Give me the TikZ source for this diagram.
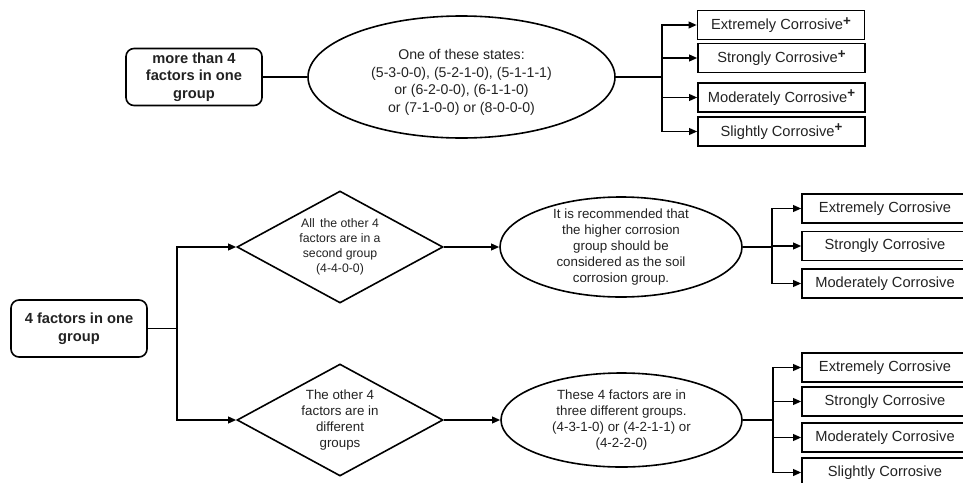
\documentclass[tikz,border=0pt]{standalone}
\usepackage{fontspec}
\setmainfont{Liberation Sans}
\usetikzlibrary{shapes.geometric,arrows.meta}
\definecolor{txt}{HTML}{222222}
\newcommand{\plussup}{\raisebox{0.55ex}{\fontsize{10}{10}\selectfont\bfseries +}}
\tikzset{
  ln/.style={line width=1.2pt},
  arr/.style={ln,-{Triangle[length=6pt,width=5pt]}},
  rbox/.style={draw,ln,rounded corners=6pt,minimum width=102pt,minimum height=42.75pt,align=center,
    font=\fontsize{11}{13.2}\selectfont\bfseries,text=txt,inner sep=0pt},
  cbox/.style={draw,ln,minimum width=125.25pt,minimum height=21.5pt,inner sep=0pt,
    font=\fontsize{11}{13}\selectfont,text=txt},
  ell/.style={draw,ln,ellipse,inner sep=0pt},
  dia/.style={draw,ln,diamond,inner sep=0pt},
  lab/.style={align=center,text=txt,inner sep=0pt},
}
\begin{document}
\begin{tikzpicture}[x=0.75pt,y=-0.75pt]
\useasboundingbox (0,0) rectangle (963,482);

% ---------- top part ----------
\node[rbox] (tb) at (194,77) {more than 4\\factors in one\\group};
\node[ell,minimum width=230.25pt,minimum height=91.5pt,
  label={[lab,font=\fontsize{10.6}{13.2}\selectfont,yshift=-4pt]center:One of these states:\\(5-3-0-0), (5-2-1-0), (5-1-1-1)\\or (6-2-0-0), (6-1-1-0)\\or (7-1-0-0) or (8-0-0-0)}]
  (te) at (461.5,77) {};
\coordinate (tbus) at (662,77);
\node[cbox] (b1) at (781,25) {Extremely Corrosive\plussup};
\node[cbox] (b2) at (781.5,58) {Strongly Corrosive\plussup};
\node[cbox] (b3) at (781.5,97.5) {Moderately Corrosive\plussup};
\node[cbox] (b4) at (781.5,131.5) {Slightly Corrosive\plussup};
\draw[ln] (tb.east) -- (te.west);
\draw[ln] (te.east) -- (tbus);
\foreach \b in {b1,b2,b3,b4} \draw[arr] (tbus) |- (\b.west);

% ---------- bottom part ----------
\node[rbox,minimum height=42.75pt] (bb) at (79,328.5) {4 factors in one\\group};
\coordinate (bbus) at (177,328.5);
\node[dia,minimum width=154.5pt,minimum height=84pt,
  label={[lab,font=\fontsize{9.2}{11.3}\selectfont]center:All\, the other 4\\factors are in a\\second group\\(4-4-0-0)}]
  (d1) at (340,247) {};
\node[dia,minimum width=154.5pt,minimum height=84pt,
  label={[lab,font=\fontsize{10}{12}\selectfont]center:The other 4\\factors are in\\different\\groups}]
  (d2) at (340,420) {};
\node[ell,minimum width=181.5pt,minimum height=75pt,
  label={[lab,font=\fontsize{10}{12}\selectfont]center:It is recommended that\\the higher corrosion\\group should be\\considered as the soil\\corrosion group.}]
  (e1) at (621,247) {};
\node[ell,minimum width=180.75pt,minimum height=70.5pt,
  label={[lab,font=\fontsize{10}{12}\selectfont]center:These 4 factors are in\\three different groups.\\(4-3-1-0) or (4-2-1-1) or\\(4-2-2-0)}]
  (e2) at (621.5,420) {};
\draw[ln] (bb.east) -- (bbus);
\draw[arr] (bbus) |- (d1.west);
\draw[arr] (bbus) |- (d2.west);
\draw[arr] (d1.east) -- (e1.west);
\draw[arr] (d2.east) -- (e2.west);

\coordinate (bus1) at (772,247);
\node[cbox,minimum width=124.5pt] (c1) at (885,208.5) {Extremely Corrosive};
\node[cbox,minimum width=124.5pt] (c2) at (885,246) {Strongly Corrosive};
\node[cbox,minimum width=124.5pt] (c3) at (885,283.5) {Moderately Corrosive};
\draw[ln] (e1.east) -- (bus1);
\foreach \c in {c1,c2,c3} \draw[arr] (bus1) |- (\c.west);

\coordinate (bus2) at (773,420);
\node[cbox,minimum width=124.5pt] (f1) at (885,367.5) {Extremely Corrosive};
\node[cbox,minimum width=124.5pt] (f2) at (885,401.5) {Strongly Corrosive};
\node[cbox,minimum width=124.5pt] (f3) at (885,437.5) {Moderately Corrosive};
\node[cbox,minimum width=124.5pt] (f4) at (885,472.5) {Slightly Corrosive};
\draw[ln] (e2.east) -- (bus2);
\foreach \c in {f1,f2,f3,f4} \draw[arr] (bus2) |- (\c.west);
\end{tikzpicture}
\end{document}
